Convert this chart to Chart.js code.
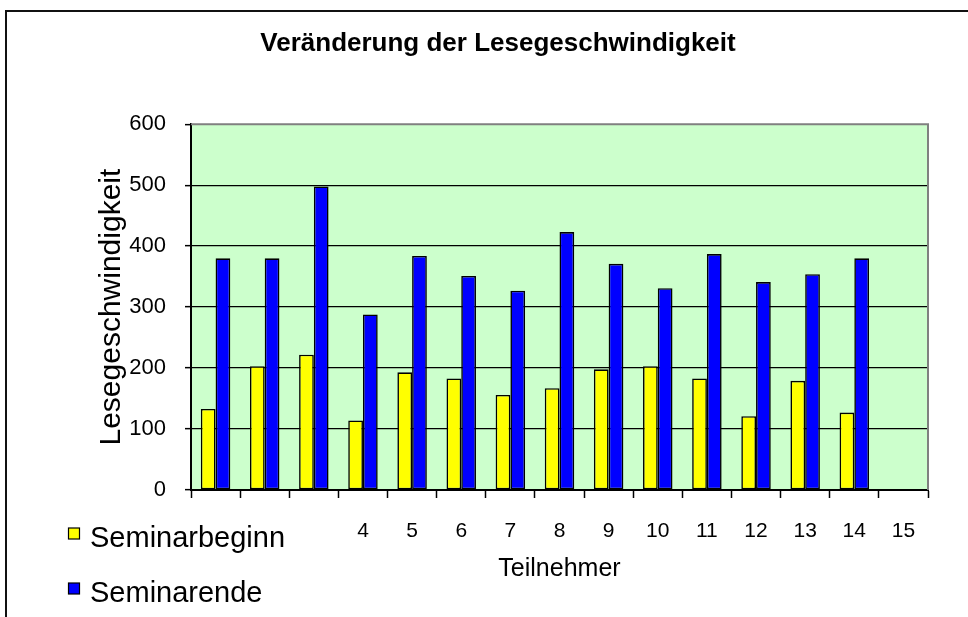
<!DOCTYPE html>
<html>
<head>
<meta charset="utf-8">
<script src="https://cdn.jsdelivr.net/npm/chart.js@4/dist/chart.umd.min.js"></script>
<style>
  html, body { margin: 0; padding: 0; background: #fff; }
  #wrap { position: relative; width: 968px; height: 617px; overflow: hidden; }
  #frame { position: absolute; left: 5px; top: 10px; width: 2000px; height: 2000px;
           border-left: 2px solid #111; border-top: 2px solid #111; box-sizing: border-box; }
  canvas { position: absolute; left: 0; top: 0; }
</style>
</head>
<body>
<div id="wrap">
  <div id="frame"></div>
  <canvas id="c" width="968" height="617"></canvas>
</div>
<script>
// ---- data ----
const chartTitle = 'Veränderung der Lesegeschwindigkeit';
const xTitle = 'Teilnehmer';
const yTitle = 'Lesegeschwindigkeit';
const categories = ['1','2','3','4','5','6','7','8','9','10','11','12','13','14','15'];
const seriesNames = ['Seminarbeginn', 'Seminarende'];
const seminarbeginn = [133, 203, 222, 114, 193, 183, 156, 167, 198, 203, 183, 121, 179, 127, null];
const seminarende   = [380, 380, 498, 288, 384, 351, 327, 423, 371, 331, 387, 341, 354, 380, null];
const yTickValues = [0, 100, 200, 300, 400, 500, 600];

const FONT = "'Liberation Sans', Arial, Helvetica, sans-serif";
Chart.defaults.font.family = FONT;
Chart.defaults.color = '#000';

const plotBg = {
  id: 'plotBg',
  beforeDraw(chart) {
    const {ctx, chartArea: a} = chart;
    ctx.save();
    ctx.fillStyle = '#CCFFCC';
    ctx.fillRect(a.left, a.top, a.right - a.left, a.bottom - a.top);
    ctx.restore();
  },
  afterDatasetsDraw(chart) {
    const {ctx, chartArea: a} = chart;
    ctx.save();
    ctx.strokeStyle = '#808080';
    ctx.lineWidth = 2;
    ctx.beginPath();
    ctx.moveTo(a.left, a.top);
    ctx.lineTo(a.right, a.top);
    ctx.lineTo(a.right, a.bottom);
    ctx.stroke();
    ctx.restore();
  }
};

const sideLegend = {
  id: 'sideLegend',
  afterDraw(chart) {
    const {ctx} = chart;
    ctx.save();
    ctx.fillStyle = '#fff';
    ctx.fillRect(60, 505, 275, 112);
    const rows = [539, 594];
    chart.data.datasets.forEach((ds, i) => {
      const cy = rows[i];
      ctx.fillStyle = ds.backgroundColor;
      ctx.fillRect(68.5, cy - 11, 11, 11);
      ctx.strokeStyle = '#000';
      ctx.lineWidth = 1.2;
      ctx.strokeRect(68.5, cy - 11, 11, 11);
      ctx.fillStyle = '#000';
      ctx.font = '29px ' + FONT;
      ctx.textAlign = 'left';
      ctx.textBaseline = 'middle';
      ctx.fillText(ds.label, 90, cy);
    });
    ctx.restore();
  }
};

new Chart(document.getElementById('c'), {
  type: 'bar',
  data: {
    labels: categories,
    datasets: [
      { label: seriesNames[0], data: seminarbeginn, backgroundColor: '#FFFF00',
        borderColor: '#000', borderWidth: 1.6, borderSkipped: false },
      { label: seriesNames[1], data: seminarende, backgroundColor: '#0000FF',
        borderColor: '#000', borderWidth: 1.6, borderSkipped: false }
    ]
  },
  options: {
    responsive: false,
    animation: false,
    categoryPercentage: 0.6,
    barPercentage: 1,
    layout: { padding: { left: 68, right: 40, top: 0, bottom: 0 } },
    plugins: {
      legend: { display: false },
      tooltip: { enabled: false },
      title: {
        display: true, text: chartTitle, color: '#000',
        font: { size: 26, weight: 'bold', family: FONT },
        padding: { top: 28, bottom: 65 }
      }
    },
    scales: {
      x: {
        afterFit(s) { s.height = 127; },
        grid: { offset: true, drawOnChartArea: false, tickLength: 8, tickColor: '#000', tickWidth: 1.5 },
        border: { display: true, color: '#000', width: 2 },
        ticks: { font: { size: 21 }, color: '#000', padding: 21, maxRotation: 0, autoSkip: false },
        title: { display: true, text: xTitle, color: '#000', font: { size: 25 }, padding: { top: 0, bottom: 33 } }
      },
      y: {
        min: yTickValues[0], max: yTickValues[yTickValues.length - 1],
        afterFit(s) { s.width = 123; },
        afterBuildTicks(s) { s.ticks = yTickValues.map(v => ({ value: v })); },
        grid: {
          color: c => (c.tick && c.tick.value === yTickValues[yTickValues.length - 1]) ? 'rgba(0,0,0,0)' : '#000',
          lineWidth: 1.3, tickLength: 6, tickColor: '#000', tickWidth: 1.5
        },
        border: { display: true, color: '#000', width: 2 },
        ticks: { font: { size: 22 }, color: '#000', padding: 19 },
        title: { display: true, text: yTitle, color: '#000', font: { size: 30 }, padding: { top: 26, bottom: 0 } }
      }
    }
  },
  plugins: [plotBg, sideLegend]
});
</script>
</body>
</html>
